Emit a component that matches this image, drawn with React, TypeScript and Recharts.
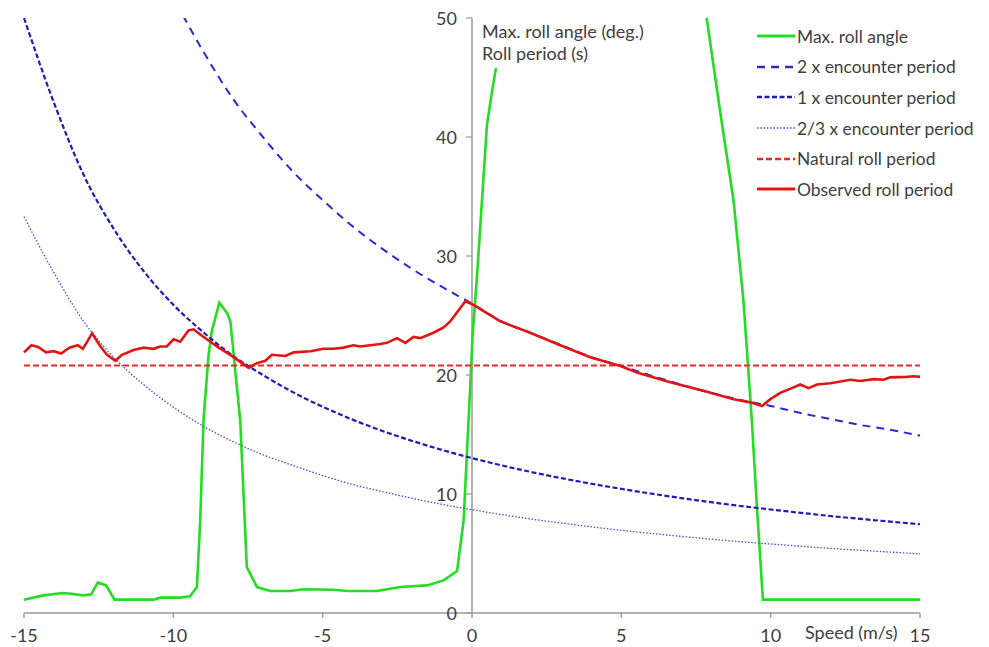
import { LineChart, Line, XAxis, YAxis, ReferenceLine } from "recharts";

const FONT = "Lato, 'Open Sans', sans-serif";
const TEXT = "#404040";
const AXIS = "#9a9a9a";

// chart geometry (svg coords, page offset 8px by body margin)
const W = 981;
const H = 639;
const M = { top: 10, right: 69, bottom: 4, left: 15 };
const Y_W = 1;
const PLOT_W = W - M.left - Y_W - M.right;
const Y_AXIS_X = M.left + Y_W + PLOT_W / 2; // speed = 0

// encounter periods, read at every whole m/s
const speeds = [-15, -14, -13, -12, -11, -10, -9, -8, -7, -6, -5, -4, -3, -2, -1, 0, 1, 2, 3, 4, 5, 6, 7, 8, 9, 10, 11, 12, 13, 14, 15];
const twoXEncounter = [100, 85.8, 73.6, 64.6, 57.5, 51.8, 47.2, 43.2, 40.0, 37.1, 34.7, 32.5, 30.6, 28.9, 27.4, 26.0, 24.5, 23.5, 22.5, 21.5, 20.75, 19.95, 19.2, 18.5, 17.9, 17.4, 16.8, 16.3, 15.8, 15.4, 14.9];
const oneXEncounter = [50.0, 42.9, 36.8, 32.3, 28.75, 25.9, 23.6, 21.6, 20.0, 18.56, 17.33, 16.25, 15.3, 14.46, 13.7, 13.02, 12.4, 11.84, 11.33, 10.86, 10.43, 10.03, 9.66, 9.31, 8.99, 8.7, 8.42, 8.15, 7.91, 7.68, 7.46];
const twoThirdsEncounter = [33.3, 28.6, 24.5, 21.5, 19.2, 17.3, 15.7, 14.4, 13.3, 12.4, 11.55, 10.8, 10.2, 9.64, 9.13, 8.68, 8.27, 7.89, 7.55, 7.24, 6.95, 6.69, 6.44, 6.21, 5.99, 5.8, 5.61, 5.43, 5.27, 5.12, 4.97];

const naturalSpeeds = [-15, 15];
const naturalRoll = [20.8, 20.8];

const observedSpeeds = [-15, -14.75, -14.53, -14.26, -14, -13.76, -13.48, -13.2, -13.03, -12.72, -12.44, -12.22, -11.94, -11.72, -11.33, -11, -10.66, -10.44, -10.22, -9.99, -9.77, -9.49, -9.32, -9.1, -8.54, -7.98, -7.48, -7.2, -6.92, -6.7, -6.25, -5.97, -5.41, -4.97, -4.63, -4.3, -3.97, -3.74, -3.41, -3.07, -2.85, -2.51, -2.23, -1.96, -1.73, -1.29, -0.95, -0.73, -0.22, 0.05, 0.95, 1.95, 2.85, 3.96, 4.97, 5.52, 6.64, 7.87, 8.76, 9.32, 9.71, 9.99, 10.32, 10.71, 10.99, 11.27, 11.55, 12, 12.67, 13, 13.45, 13.78, 14, 14.56, 14.78, 15];
const observedRoll = [21.9, 22.5, 22.35, 21.9, 22.0, 21.8, 22.3, 22.5, 22.2, 23.5, 22.4, 21.7, 21.2, 21.7, 22.1, 22.3, 22.2, 22.4, 22.4, 23.0, 22.8, 23.75, 23.84, 23.4, 22.4, 21.5, 20.6, 21.0, 21.2, 21.7, 21.6, 21.9, 22.0, 22.2, 22.2, 22.3, 22.5, 22.4, 22.5, 22.6, 22.7, 23.1, 22.7, 23.2, 23.1, 23.55, 24.0, 24.5, 26.2, 25.9, 24.5, 23.55, 22.6, 21.5, 20.76, 20.2, 19.4, 18.6, 17.97, 17.7, 17.4, 17.97, 18.5, 18.9, 19.2, 18.9, 19.2, 19.3, 19.6, 19.5, 19.65, 19.6, 19.8, 19.84, 19.9, 19.84];

// null = off the scale, line broken
const rollAngleSpeeds = [-15, -14.36, -13.69, -13.42, -13.03, -12.75, -12.53, -12.25, -11.97, -10.66, -10.44, -9.77, -9.44, -9.21, -9.1, -8.99, -8.82, -8.71, -8.46, -8.2, -8.09, -7.76, -7.54, -7.2, -6.76, -6.09, -5.64, -4.63, -4.18, -3.18, -2.4, -1.51, -0.95, -0.5, -0.28, -0.17, -0.06, 0.02, 0.17, 0.39, 0.5, 0.67, 0.8, 4, 7.84, 8.31, 8.76, 9.09, 9.37, 9.54, 9.74, 15];
const maxRollAngle = [1.12, 1.48, 1.68, 1.62, 1.48, 1.57, 2.55, 2.32, 1.12, 1.12, 1.29, 1.29, 1.4, 2.18, 7.8, 16.2, 21.7, 23.7, 26.07, 25.2, 24.5, 16.15, 3.86, 2.18, 1.85, 1.85, 1.99, 1.96, 1.85, 1.85, 2.18, 2.32, 2.74, 3.52, 7.8, 13.4, 19.0, 23.4, 28.4, 36.8, 41.0, 43.8, 45.8, null, 50.3, 42.1, 34.6, 26.2, 16.15, 8.9, 1.12, 1.12];

const xTicks = [-15, -10, -5, 0, 5, 10, 15];
const yTicks = [0, 10, 20, 30, 40, 50];

const pts = (xs: number[], ys: (number | null)[]) => xs.map((x, i) => ({ x, y: ys[i] }));

const series = [
  { name: "Max. roll angle", data: pts(rollAngleSpeeds, maxRollAngle), color: "#22dd22", width: 2.6, dash: undefined, curve: "linear" },
  { name: "2 x encounter period", data: pts(speeds, twoXEncounter), color: "#2a2ad0", width: 2, dash: "8 6", curve: "monotone" },
  { name: "1 x encounter period", data: pts(speeds, oneXEncounter), color: "#1e1eb0", width: 2.2, dash: "5 2.5", curve: "monotone" },
  { name: "2/3 x encounter period", data: pts(speeds, twoThirdsEncounter), color: "#4a4ad8", width: 1.3, dash: "1.5 1.8", curve: "monotone" },
  { name: "Natural roll period", data: pts(naturalSpeeds, naturalRoll), color: "#e52a2a", width: 2, dash: "6 3", curve: "linear" },
  { name: "Observed roll period", data: pts(observedSpeeds, observedRoll), color: "#e31414", width: 2.6, dash: undefined, curve: "linear" },
];

// y axis sits at speed 0, in the middle of the plot
// eslint-disable-next-line @typescript-eslint/no-explicit-any
function YTick({ y, payload }: any) {
  return (
    <g>
      <line x1={Y_AXIS_X - 6} x2={Y_AXIS_X} y1={y} y2={y} stroke={AXIS} strokeWidth={1.2} />
      <text x={Y_AXIS_X - 15} y={y} textAnchor="end" dominantBaseline="central" fontSize={18} fill={TEXT} fontFamily={FONT}>
        {payload.value}
      </text>
    </g>
  );
}

function RollLegend() {
  return (
    <div style={{ position: "absolute", left: 749, top: 13, fontFamily: FONT, fontSize: 17.4, color: TEXT }}>
      {series.map((s) => (
        <div key={s.name} style={{ display: "flex", alignItems: "center", height: 30.6 }}>
          <svg width={39} height={10} style={{ marginRight: 1 }}>
            <line x1={0} x2={38} y1={5} y2={5} stroke={s.color} strokeWidth={s.width + 0.4} strokeDasharray={s.dash} />
          </svg>
          <span style={{ whiteSpace: "nowrap" }}>{s.name}</span>
        </div>
      ))}
    </div>
  );
}

export default function App() {
  return (
    <div style={{ position: "relative", width: W, height: H, background: "#fff" }}>
      <LineChart width={W} height={H} margin={M}>
        <XAxis
          dataKey="x"
          type="number"
          domain={[-15, 15]}
          ticks={xTicks}
          allowDuplicatedCategory={false}
          stroke={AXIS}
          strokeWidth={1.5}
          tickSize={5}
          tickMargin={11}
          tick={{ fontSize: 18, fill: TEXT, fontFamily: FONT }}
        />
        <YAxis
          type="number"
          domain={[0, 50]}
          ticks={yTicks}
          allowDataOverflow
          width={Y_W}
          axisLine={false}
          tickLine={false}
          tick={YTick}
        />
        <ReferenceLine x={0} stroke={AXIS} strokeWidth={1.5} />
        {series.map((s) => (
          <Line
            key={s.name}
            data={s.data}
            dataKey="y"
            name={s.name}
            type={s.curve as "linear" | "monotone"}
            stroke={s.color}
            strokeWidth={s.width}
            strokeDasharray={s.dash}
            dot={false}
            activeDot={false}
            isAnimationActive={false}
          />
        ))}
      </LineChart>
      <RollLegend />
      <div style={{ position: "absolute", left: 474, top: 12, fontFamily: FONT, fontSize: 18, color: TEXT, lineHeight: "22px", whiteSpace: "nowrap" }}>
        <div>Max. roll angle (deg.)</div>
        <div>Roll period (s)</div>
      </div>
      <div style={{ position: "absolute", left: 797, top: 613, fontFamily: FONT, fontSize: 18, color: TEXT, lineHeight: "22px", whiteSpace: "nowrap" }}>
        Speed (m/s)
      </div>
    </div>
  );
}
